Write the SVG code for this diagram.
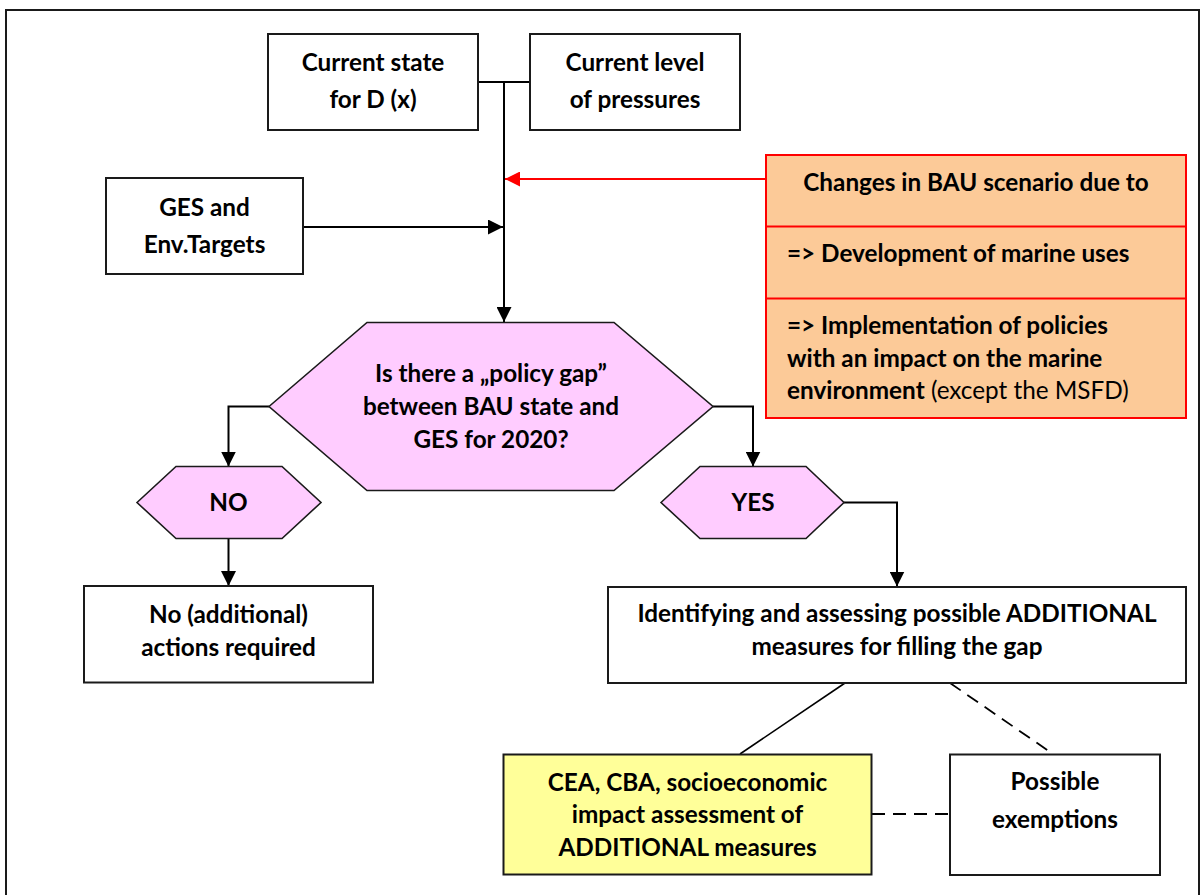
<svg xmlns="http://www.w3.org/2000/svg" width="1201" height="895" viewBox="0 0 1201 895">
  <style>
    .box { fill: #ffffff; stroke: #1a1a1a; stroke-width: 2; }
    .hex { fill: #ffccff; stroke: #1a1a1a; stroke-width: 1.6; }
    .bau { fill: #fcca98; stroke: #ff0000; stroke-width: 2; }
    .cea { fill: #ffff99; stroke: #1a1a1a; stroke-width: 2; }
    .t { font-family: Lato, "Liberation Sans", sans-serif; font-weight: bold; font-size: 24.3px; fill: #000000; }
    .c { text-anchor: middle; }
    .n { font-weight: normal; }
    .wire { fill: none; stroke: #000000; stroke-width: 2; }
    .thin { fill: none; stroke: #000000; stroke-width: 1.6; }
    .dash { fill: none; stroke: #000000; stroke-width: 1.8; stroke-dasharray: 13 8; }
    .red { fill: none; stroke: #ff0000; stroke-width: 2; }
  </style>
  <defs>
    <marker id="arrow" markerUnits="userSpaceOnUse" markerWidth="15" markerHeight="15" refX="15" refY="7.5" orient="auto">
      <path d="M0,0 L15,7.5 L0,15 Z" fill="#000000"/>
    </marker>
    <marker id="arrowRed" markerUnits="userSpaceOnUse" markerWidth="15" markerHeight="15" refX="15" refY="7.5" orient="auto">
      <path d="M0,0 L15,7.5 L0,15 Z" fill="#ff0000"/>
    </marker>
  </defs>

  <rect x="0" y="0" width="1201" height="895" fill="#ffffff"/>
  <!-- outer frame -->
  <rect x="6" y="10" width="1193" height="900" fill="none" stroke="#1a1a1a" stroke-width="2"/>

  <g id="connectors">
    <path class="wire" d="M478,82 L530,82"/>
    <path class="wire" d="M504,82 L504,322" marker-end="url(#arrow)"/>
    <path class="wire" d="M303,227 L503,227" marker-end="url(#arrow)"/>
    <path class="red" d="M766,179 L505,179" marker-end="url(#arrowRed)"/>
    <path class="wire" d="M269,406.5 L228.5,406.5 L228.5,466.5" marker-end="url(#arrow)"/>
    <path class="wire" d="M713,406.5 L753,406.5 L753,466.5" marker-end="url(#arrow)"/>
    <path class="wire" d="M228.5,538.5 L228.5,586" marker-end="url(#arrow)"/>
    <path class="wire" d="M844,502.5 L897,502.5 L897,586.5" marker-end="url(#arrow)"/>
    <path class="thin" d="M845,683 L740,754"/>
    <path class="dash" d="M950,683 L1053,754"/>
    <path class="dash" d="M872,814 L950,814"/>
  </g>

  <g id="current-state">
    <rect class="box" x="268" y="34" width="210" height="96"/>
    <text class="t c" x="373" y="71">Current state</text>
    <text class="t c" x="373" y="108">for D (x)</text>
  </g>

  <g id="current-pressures">
    <rect class="box" x="530" y="34" width="210" height="96"/>
    <text class="t c" x="635" y="71">Current level</text>
    <text class="t c" x="635" y="108">of pressures</text>
  </g>

  <g id="ges-targets">
    <rect class="box" x="106" y="178" width="197" height="96"/>
    <text class="t c" x="204.5" y="216">GES and</text>
    <text class="t c" x="204.5" y="253">Env.Targets</text>
  </g>

  <g id="bau-changes">
    <rect class="bau" x="766" y="155" width="420" height="263"/>
    <line class="red" x1="766" y1="226.5" x2="1186" y2="226.5"/>
    <line class="red" x1="766" y1="298.5" x2="1186" y2="298.5"/>
    <text class="t c" x="976" y="190.5">Changes in BAU scenario due to</text>
    <text class="t" x="787" y="262">=&gt; Development of marine uses</text>
    <text class="t" x="787" y="334">=&gt; Implementation of policies</text>
    <text class="t" x="787" y="366.5">with an impact on the marine</text>
    <text class="t" x="787" y="399">environment<tspan class="n"> (except the MSFD)</tspan></text>
  </g>

  <g id="policy-gap">
    <polygon class="hex" points="269,406.5 367,322.5 614,322.5 713,406.5 614,490.5 367,490.5"/>
    <text class="t c" x="491" y="381.5">Is there a „policy gap”</text>
    <text class="t c" x="491" y="415">between BAU state and</text>
    <text class="t c" x="491" y="448">GES for 2020?</text>
  </g>

  <g id="answer-no">
    <polygon class="hex" points="137,502.5 176,466.5 282,466.5 321,502.5 282,538.5 176,538.5"/>
    <text class="t c" x="228.5" y="511">NO</text>
  </g>

  <g id="answer-yes">
    <polygon class="hex" points="661,502.5 700,466.5 806,466.5 844,502.5 806,538.5 700,538.5"/>
    <text class="t c" x="753" y="511">YES</text>
  </g>

  <g id="no-action">
    <rect class="box" x="84" y="586" width="289" height="96.5"/>
    <text class="t c" x="228.5" y="623">No (additional)</text>
    <text class="t c" x="228.5" y="656">actions required</text>
  </g>

  <g id="additional-measures">
    <rect class="box" x="608" y="587" width="578" height="96"/>
    <text class="t c" x="897" y="622">Identifying and assessing possible ADDITIONAL</text>
    <text class="t c" x="897" y="655">measures for filling the gap</text>
  </g>

  <g id="impact-assessment">
    <rect class="cea" x="503.5" y="754.5" width="368" height="120"/>
    <text class="t c" x="687.5" y="791">CEA, CBA, socioeconomic</text>
    <text class="t c" x="687.5" y="823">impact assessment of</text>
    <text class="t c" x="687.5" y="855.5">ADDITIONAL measures</text>
  </g>

  <g id="exemptions">
    <rect class="box" x="950" y="754.5" width="210" height="120.5"/>
    <text class="t c" x="1055" y="790">Possible</text>
    <text class="t c" x="1055" y="828">exemptions</text>
  </g>
</svg>
